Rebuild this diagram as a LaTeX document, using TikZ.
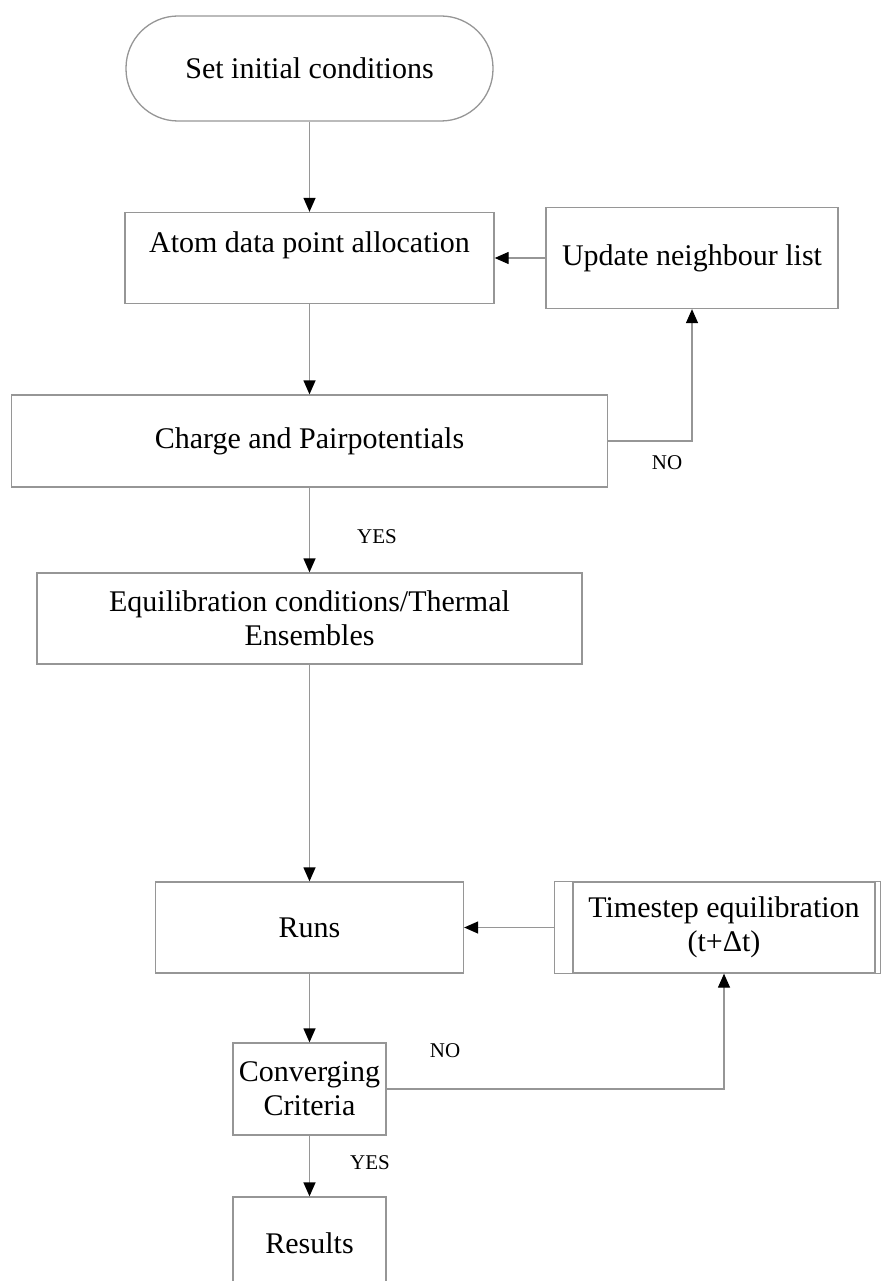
\documentclass[tikz,border=0pt]{standalone}
\usepackage{fontspec}
\setmainfont{Liberation Serif}
\usetikzlibrary{arrows.meta}
\definecolor{linegray}{RGB}{150,150,150}
\begin{document}
\begin{tikzpicture}[x=1pt,y=-1pt,
    box/.style={draw=linegray, line width=1.3pt, minimum height=91pt, inner sep=4pt,
        align=center, font=\fontsize{30}{34}\selectfont},
    flow/.style={draw=linegray, line width=1.3pt, -{Triangle[length=14pt,width=12pt,color=black]}},
    tag/.style={font=\fontsize{21}{24}\selectfont}]
    \useasboundingbox (0,0) rectangle (881,1281);
    \clip (0,0) rectangle (881,1281);

    \node[box, minimum width=367pt, minimum height=105pt, rounded corners=52pt] (start) at (309.5,68.5) {Set initial conditions};
    \node[box, minimum width=369pt, text height=22pt, text depth=34pt] (atom) at (309.5,258) {Atom data point allocation};
    \node[box, minimum width=292pt, minimum height=101pt] (update) at (692,258) {Update neighbour list};
    \node[box, minimum width=596pt, minimum height=92pt] (charge) at (309.5,441) {Charge and Pairpotentials};
    \node[box, minimum width=545pt] (equil) at (309.5,618.5) {Equilibration conditions/Thermal\\Ensembles};
    \node[box, minimum width=308pt] (runs) at (309.5,927.5) {Runs};
    \node[box, minimum width=302pt] (time) at (724,927.5) {Timestep equilibration\\(t+Δt)};
    \node[box, minimum width=153pt, minimum height=92pt] (conv) at (309.5,1089) {Converging\\Criteria};
    \node[box, minimum width=153pt, minimum height=92pt] (results) at (309.5,1243) {Results};

    % side bars of the timestep box
    \draw[linegray, line width=1.3pt] (time.north west) -- ++(-18,0) |- (time.south west);
    \draw[linegray, line width=1.3pt] (time.north east) -- ++(5,0) |- (time.south east);

    \draw[flow] (start) -- (atom);
    \draw[flow] (atom) -- (charge);
    \draw[flow] (update) -- (atom);
    \draw[flow] (charge.east) -| (update.south);
    \draw[flow] (charge) -- (equil);
    \draw[flow] (equil) -- (runs);
    \draw[flow] ([xshift=-18pt]time.west) -- (runs.east);
    \draw[flow] (runs) -- (conv);
    \draw[flow] (conv.east) -| (time.south);
    \draw[flow] (conv) -- (results);

    \node[tag] (no1) at (667,463) {NO};
    \node[tag] (yes1) at (377,537) {YES};
    \node[tag] (no2) at (445,1051) {NO};
    \node[tag] (yes2) at (370,1163) {YES};
\end{tikzpicture}
\end{document}
